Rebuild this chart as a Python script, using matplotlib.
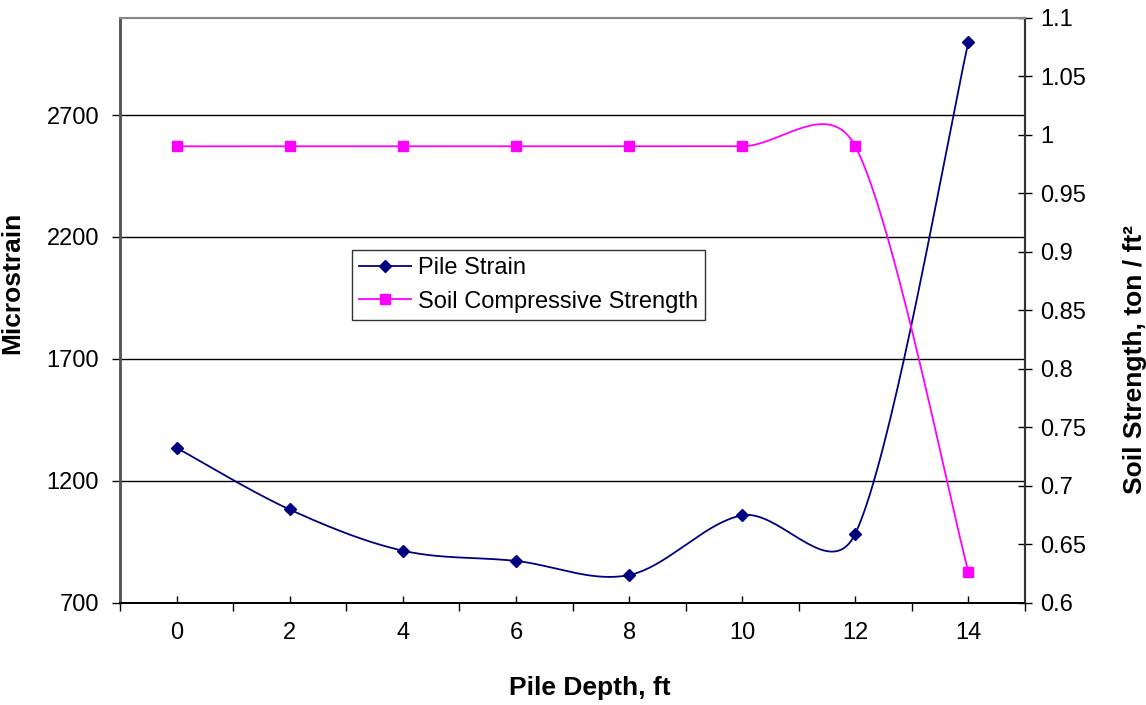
import numpy as np
import matplotlib
matplotlib.use("Agg")
import matplotlib.pyplot as plt
from matplotlib.ticker import FixedLocator

plt.rcParams["font.family"] = ["Liberation Sans", "DejaVu Sans"]

depth = [0, 2, 4, 6, 8, 10, 12, 14]
pile_strain = [1335, 1082, 913, 871, 813, 1058, 983, 3000]
soil_strength = [0.99, 0.99, 0.99, 0.99, 0.99, 0.99, 0.99, 0.626]

left_ticks = [700, 1200, 1700, 2200, 2700]
right_ticks = [0.6, 0.65, 0.7, 0.75, 0.8, 0.85, 0.9, 0.95, 1.0, 1.05, 1.1]
right_labels = ["0.6", "0.65", "0.7", "0.75", "0.8", "0.85", "0.9", "0.95", "1", "1.05", "1.1"]


def excel_smooth(ax, xs, ys, n=40):
    # bezier smoothing like Excel, computed in pixel space
    pts = ax.transData.transform(np.column_stack([xs, ys]))
    out = [pts[0]]
    for i in range(len(pts) - 1):
        p0 = pts[i - 1] if i > 0 else pts[i]
        p1 = pts[i]
        p2 = pts[i + 1]
        p3 = pts[i + 2] if i + 2 < len(pts) else pts[i + 1]
        d12 = np.hypot(*(p2 - p1))
        d02 = np.hypot(*(p2 - p0))
        d13 = np.hypot(*(p3 - p1))
        f0 = 1 / 6 if d02 == 0 else min(1 / 6, d12 / (2 * d02))
        f3 = 1 / 6 if d13 == 0 else min(1 / 6, d12 / (2 * d13))
        c1 = p1 + (p2 - p0) * f0
        c2 = p2 - (p3 - p1) * f3
        t = np.linspace(0, 1, n)[1:, None]
        seg = ((1 - t) ** 3) * p1 + 3 * ((1 - t) ** 2) * t * c1 + 3 * (1 - t) * t ** 2 * c2 + t ** 3 * p2
        out.extend(seg)
    out = ax.transData.inverted().transform(np.array(out))
    return out[:, 0], out[:, 1]


fig = plt.figure(figsize=(11.46, 7.05), dpi=100)
ax = fig.add_axes([120 / 1146, (705 - 602.6) / 705, 905 / 1146, 585 / 705])
ax2 = ax.twinx()

ax.set_xlim(-1, 15)
ax.set_ylim(700, 3100)
ax2.set_ylim(0.6, 1.1)

for y in left_ticks[1:]:
    ax.axhline(y, color="black", lw=1.0, zorder=1)

sx, sy = excel_smooth(ax, depth, pile_strain)
ax.plot(sx, sy, color="#000080", lw=1.3, zorder=3)
ax.plot(depth, pile_strain, ls="none", marker="D", ms=6, color="#000080", zorder=4)

tx, ty = excel_smooth(ax2, depth, soil_strength)
ax2.plot(tx, ty, color="#FF00FF", lw=1.3, zorder=3)
ax2.plot(depth, soil_strength, ls="none", marker="s", ms=7, color="#FF00FF", zorder=4)

# legend handles
h1, = ax.plot([], [], color="#000080", lw=1.3, marker="D", ms=6, label="Pile Strain")
h2, = ax.plot([], [], color="#FF00FF", lw=1.3, marker="s", ms=7, label="Soil Compressive Strength")
leg = ax2.legend(handles=[h1, h2], loc="upper left", bbox_to_anchor=(0.256, 0.603),
                 borderaxespad=0, fontsize=17, frameon=True, fancybox=False,
                 edgecolor="black", labelspacing=0.5, handlelength=2.2,
                 borderpad=0.3, handletextpad=0.3)
leg.get_frame().set_linewidth(1.0)

ax.set_yticks(left_ticks)
ax.tick_params(axis="y", direction="out", length=6, width=1, labelsize=17, pad=9)
ax2.set_yticks(right_ticks)
ax2.set_yticklabels(right_labels)
ax2.tick_params(axis="y", direction="inout", length=10, width=1, labelsize=17, pad=6)

ax.xaxis.set_major_locator(FixedLocator(depth))
ax.xaxis.set_minor_locator(FixedLocator(np.arange(-1, 16, 2)))
ax.set_xticklabels([str(d) for d in depth])
ax.tick_params(axis="x", which="major", direction="in", length=5, width=1, labelsize=17, pad=14)
ax.tick_params(axis="x", which="minor", direction="out", length=6, width=1)

for a in (ax, ax2):
    a.spines["left"].set_color("#555555")
    a.spines["left"].set_linewidth(1.8)
    a.spines["right"].set_color("#333333")
    a.spines["right"].set_linewidth(1.5)
    a.spines["top"].set_color("#888888")
    a.spines["top"].set_linewidth(1.5)
    a.spines["bottom"].set_color("black")
    a.spines["bottom"].set_linewidth(1.3)

ax.set_xlabel("Pile Depth, ft", fontsize=19, fontweight="bold", labelpad=24)
ax.xaxis.set_label_coords(0.519, -0.125)
ax.set_ylabel("Microstrain", fontsize=19, fontweight="bold")
ax.yaxis.set_label_coords(-0.106, 0.546)
ax2.set_ylabel("Soil Strength, ton / ft²", fontsize=19, fontweight="bold")
ax2.yaxis.set_label_coords(1.108, 0.415)

fig.savefig("out.png", dpi=100)
